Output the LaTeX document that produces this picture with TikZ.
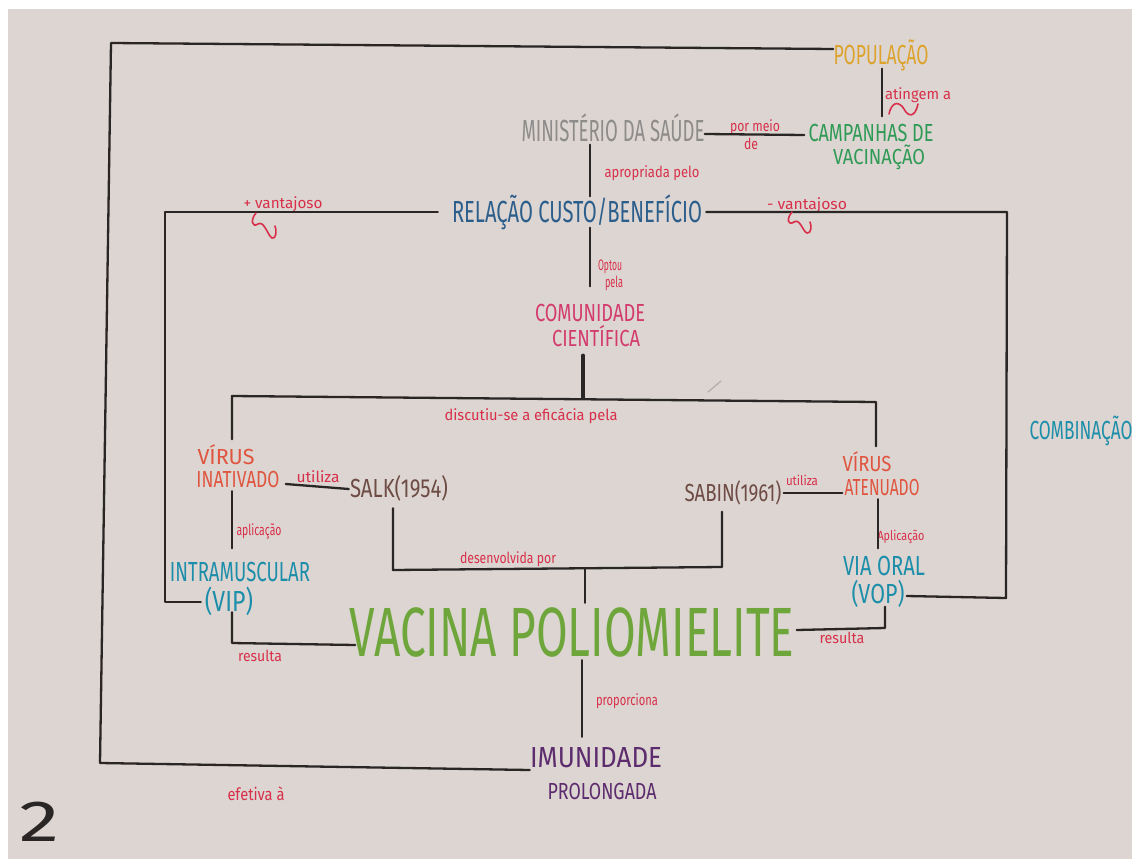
\documentclass[tikz,border=0pt]{standalone}
\usepackage{fontspec}
\usepackage{graphicx}
\IfFontExistsTF{FiraSans-Light.otf}
  {\newfontfamily\hand{FiraSans-Light.otf}}
  {\newfontfamily\hand{Fira Sans}}
\setmainfont{Fira Sans}
% text squeezed/stretched into a box of given width and cap (or x) height
\newcommand\capfit[3]{\resizebox{#1pt}{#2pt}{\hand\smash{#3}\vphantom{H}}}
\newcommand\lowfit[3]{\resizebox{#1pt}{#2pt}{\hand\smash{#3}\vphantom{x}}}
\definecolor{paper}{HTML}{DCD5D1}
\definecolor{ink}{HTML}{2A2626}
\definecolor{cpop}{HTML}{DDA32C}
\definecolor{ccamp}{HTML}{2F9A55}
\definecolor{cms}{HTML}{8E8B8B}
\definecolor{crcb}{HTML}{2C5E8C}
\definecolor{ccom}{HTML}{D33B6E}
\definecolor{cvir}{HTML}{E0553F}
\definecolor{cbrown}{HTML}{6E4B45}
\definecolor{cteal}{HTML}{1C8EAA}
\definecolor{cvac}{HTML}{6EA63B}
\definecolor{cimu}{HTML}{5D2C6E}
\definecolor{cred}{HTML}{D8304A}
\tikzset{
  ln/.style={draw=ink, line width=2.3pt, line cap=round, line join=round},
  txt/.style={inner sep=0pt, anchor=center},
  lab/.style={inner sep=0pt, anchor=center, text=cred},
  squig/.style={draw=cred, line width=1.6pt, line cap=round}
}
\begin{document}
\begin{tikzpicture}[x=1pt, y=-1pt]
  \fill[white] (0,0) rectangle (1132,859);
  \fill[paper] (8,9) rectangle (1132,859);
  \useasboundingbox (0,0) rectangle (1132,859);

  % concepts
  \node[txt, text=cpop]   (pop)   at (881,55)  {\capfit{95}{19}{POPULAÇÃO}};
  \node[txt, text=ccamp]  (camp1) at (871,133) {\capfit{125}{17}{CAMPANHAS DE}};
  \node[txt, text=ccamp]  (camp2) at (879,157) {\capfit{92}{15}{VACINAÇÃO}};
  \node[txt, text=cms]    (ms)    at (613,131) {\capfit{183}{21}{MINISTÉRIO DA SAÚDE}};
  \node[txt, text=crcb]   (rcb)   at (577,212) {\capfit{250}{21}{RELAÇÃO CUSTO/BENEFÍCIO}};
  \node[txt, text=ccom]   (com1)  at (590,313) {\capfit{110}{17}{COMUNIDADE}};
  \node[txt, text=ccom]   (com2)  at (596,338) {\capfit{88}{16}{CIENTÍFICA}};
  \node[txt, text=cvir]   (vi1)   at (226,457) {\capfit{57}{15}{VÍRUS}};
  \node[txt, text=cvir]   (vi2)   at (238,479) {\capfit{83}{16}{INATIVADO}};
  \node[txt, text=cbrown] (salk)  at (399,488) {\capfit{98}{18}{SALK(1954)}};
  \node[txt, text=cteal]  (im1)   at (240,572) {\capfit{140}{19}{INTRAMUSCULAR}};
  \node[txt, text=cteal]  (im2)   at (229,601) {\capfit{48}{20}{(VIP)}};
  \node[txt, text=cbrown] (sabin) at (733,493) {\capfit{97}{17}{SABIN(1961)}};
  \node[txt, text=cvir]   (va1)   at (867,464) {\capfit{49}{15}{VÍRUS}};
  \node[txt, text=cvir]   (va2)   at (882,487) {\capfit{75}{16}{ATENUADO}};
  \node[txt, text=cteal]  (vo1)   at (884,566) {\capfit{82}{19}{VIA ORAL}};
  \node[txt, text=cteal]  (vo2)   at (878,594) {\capfit{53}{19}{(VOP)}};
  \node[txt, text=cvac]   (vac)   at (572,632) {\capfit{445}{48}{VACINA POLIOMIELITE}};
  \node[txt, text=cimu]   (imu1)  at (596,757) {\capfit{132}{20}{IMUNIDADE}};
  \node[txt, text=cimu]   (imu2)  at (602,791) {\capfit{109}{16}{PROLONGADA}};
  \node[txt, text=cteal]  (comb)  at (1081,430) {\capfit{103}{18}{COMBINAÇÃO}};
  \node[txt, text=ink]    (num)   at (40,821)  {\capfit{40}{40}{2}};

  % linking phrases
  \node[lab] (lating) at (918,95)  {\lowfit{66}{8}{atingem a}};
  \node[lab] (lpor)   at (755,127) {\lowfit{50}{8}{por meio}};
  \node[lab] (lde)    at (751,145) {\lowfit{14}{8}{de}};
  \node[lab] (lapr)   at (652,173) {\lowfit{95}{8}{apropriada pelo}};
  \node[lab] (lplus)  at (283,204) {\lowfit{79}{8}{+ vantajoso}};
  \node[lab] (lminus) at (807,205) {\lowfit{80}{8}{- vantajoso}};
  \node[lab] (lopt1)  at (610,266) {\lowfit{24}{8}{Optou}};
  \node[lab] (lopt2)  at (614,283) {\lowfit{18}{8}{pela}};
  \node[lab] (ldisc)  at (531,416) {\lowfit{173}{8}{discutiu-se a eficácia pela}};
  \node[lab] (lutil1) at (318,478) {\lowfit{43}{8}{utiliza}};
  \node[lab] (lapl1)  at (259,531) {\lowfit{45}{8}{aplicação}};
  \node[lab] (ldes)   at (508,559) {\lowfit{96}{8}{desenvolvida por}};
  \node[lab] (lutil2) at (802,482) {\lowfit{32}{7}{utiliza}};
  \node[lab] (lapl2)  at (901,537) {\lowfit{47}{7}{Aplicação}};
  \node[lab] (lres1)  at (260,657) {\lowfit{44}{8}{resulta}};
  \node[lab] (lres2)  at (842,639) {\lowfit{45}{8}{resulta}};
  \node[lab] (lprop)  at (627,701) {\lowfit{62}{8}{proporciona}};
  \node[lab] (lefe)   at (256,796) {\lowfit{57}{9}{efetiva à}};

  % corner points of the connectors
  \coordinate (fbl) at (100,763);
  \coordinate (ftl) at (111,43);
  \coordinate (cl1) at (165,212);
  \coordinate (cl2) at (165,602);
  \coordinate (cr1) at (1007,212);
  \coordinate (cr2) at (1006,598);
  \coordinate (cj)  at (583,398);
  \coordinate (bl)  at (232,396);
  \coordinate (br)  at (876,402);
  \coordinate (cv1) at (232,643);
  \coordinate (cs1) at (393,570);
  \coordinate (cs2) at (722,567);
  \coordinate (cjv) at (585,568);
  \coordinate (cv2) at (885,628);

  % connectors
  \draw[ln] ([yshift=-13pt]imu1.west) -- (fbl) -- (ftl) -- ([yshift=6pt]pop.west);
  \draw[ln] ([xshift=1pt,yshift=-4pt]pop.south) -- ([xshift=11pt,yshift=8pt]camp1.north);
  \draw[ln] ([yshift=-3pt]ms.east) -- ([xshift=-4pt,yshift=-2pt]camp1.west);
  \draw[ln] ([xshift=-23pt,yshift=-3pt]ms.south) -- ([xshift=13pt,yshift=5pt]rcb.north);
  \draw[ln] ([xshift=-14pt]rcb.west) -- (cl1) -- (cl2) -- ([xshift=-4pt,yshift=-1pt]im2.west);
  \draw[ln] ([xshift=4pt]rcb.east) -- (cr1) -- (cr2) -- ([xshift=2pt,yshift=-2pt]vo2.east);
  \draw[ln] ([xshift=13pt,yshift=-5pt]rcb.south) -- ([yshift=18pt]com1.north);
  \draw[line width=3.2pt, draw=ink, line cap=round] ([xshift=-13pt,yshift=-9pt]com2.south) -- (cj);
  \draw[ln] ([xshift=6pt,yshift=10pt]vi1.north) -- (bl) -- (br) -- ([xshift=9pt,yshift=10pt]va1.north);
  \draw[ln] ([xshift=6pt,yshift=-5pt]vi2.east) -- ([xshift=-1pt,yshift=-1pt]salk.west);
  \draw[ln] ([xshift=-6pt,yshift=-4pt]vi2.south) -- ([xshift=-8pt,yshift=14pt]im1.north);
  \draw[ln] ([xshift=3pt,yshift=-1pt]im2.south) -- (cv1) -- ([xshift=6pt,yshift=-13pt]vac.west);
  \draw[ln] ([xshift=-6pt,yshift=-11pt]salk.south) -- (cs1) -- (cs2) -- ([xshift=-11pt,yshift=-10pt]sabin.south);
  \draw[ln] (cjv) -- ([xshift=13pt,yshift=5pt]vac.north);
  \draw[ln] ([xshift=2pt]sabin.east) -- ([xshift=-2pt,yshift=-6pt]va2.west);
  \draw[ln] ([xshift=-4pt,yshift=-4pt]va2.south) -- ([xshift=-6pt,yshift=8pt]vo1.north);
  \draw[ln] ([xshift=7pt,yshift=-3pt]vo2.south) -- (cv2) -- ([xshift=2pt,yshift=2pt]vac.east);
  \draw[ln] ([xshift=10pt,yshift=-4pt]vac.south) -- ([xshift=-14pt,yshift=10pt]imu1.north);

  % little wavy marks under some linking phrases
  \draw[squig] (889,114) .. controls (892,100) and (900,102) .. (904,109)
               .. controls (908,117) and (915,118) .. (918,104);
  \draw[squig] (256,213) .. controls (250,220) and (252,228) .. (258,224)
               .. controls (264,220) and (268,236) .. (272,238)
               .. controls (276,240) and (277,230) .. (275,226);
  \draw[squig] (792,212) .. controls (786,219) and (788,226) .. (794,222)
               .. controls (800,218) and (803,232) .. (807,233)
               .. controls (811,234) and (812,226) .. (810,222);

  % stray pen stroke
  \draw[draw=cms!70, line width=1.2pt, line cap=round] (708,392) -- (721,381);
\end{tikzpicture}
\end{document}
